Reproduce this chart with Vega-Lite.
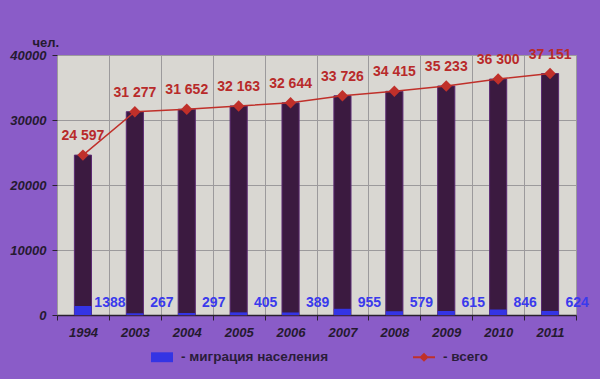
{
  "$schema": "https://vega.github.io/schema/vega-lite/v6.json",
  "width": 519,
  "height": 260,
  "autosize": {"type": "none"},
  "padding": {"left": 57, "top": 55, "right": 24, "bottom": 64},
  "background": "#8a5cc8",
  "config": {
    "font": "Liberation Sans",
    "locale": {"number": {"decimal": ".", "thousands": " ", "grouping": [3], "currency": ["", ""]}},
    "view": {"fill": "#d9d7d2", "stroke": "#8d8a90", "strokeWidth": 1}
  },
  "data": {
    "values": [
      {"year": "1994", "total": 24597, "migration": 1388},
      {"year": "2003", "total": 31277, "migration": 267},
      {"year": "2004", "total": 31652, "migration": 297},
      {"year": "2005", "total": 32163, "migration": 405},
      {"year": "2006", "total": 32644, "migration": 389},
      {"year": "2007", "total": 33726, "migration": 955},
      {"year": "2008", "total": 34415, "migration": 579},
      {"year": "2009", "total": 35233, "migration": 615},
      {"year": "2010", "total": 36300, "migration": 846},
      {"year": "2011", "total": 37151, "migration": 624}
    ]
  },
  "encoding": {
    "x": {
      "field": "year",
      "type": "nominal",
      "scale": {"paddingInner": 0, "paddingOuter": 0},
      "axis": {
        "title": null,
        "labelAngle": 0,
        "tickBand": "extent",
        "grid": true,
        "gridColor": "#9c9a9c",
        "gridWidth": 1,
        "domainColor": "#2a2030",
        "domainWidth": 1.5,
        "tickColor": "#2a2030",
        "tickSize": 5,
        "labelPadding": 6,
        "labelFont": "Liberation Sans",
        "labelFontSize": 13,
        "labelFontWeight": "bold",
        "labelFontStyle": "italic",
        "labelColor": "#251a30"
      }
    }
  },
  "layer": [
    {
      "mark": {"type": "bar", "width": {"band": 0.33}, "color": "#3b1a40", "stroke": "#5b2a72", "strokeWidth": 1},
      "encoding": {
        "y": {
          "field": "total",
          "type": "quantitative",
          "scale": {"domain": [0, 40000]},
          "axis": {
            "values": [0, 10000, 20000, 30000, 40000],
            "format": "d",
            "title": "чел.",
            "titleAngle": 0,
            "titleAlign": "left",
            "titleBaseline": "bottom",
            "titleX": -25,
            "titleY": -6,
            "titleFont": "Liberation Sans",
            "titleFontSize": 13,
            "titleFontWeight": "bold",
            "titleColor": "#251a30",
            "grid": true,
            "gridColor": "#9c9a9c",
            "gridWidth": 1,
            "domain": false,
            "tickColor": "#2a2030",
            "tickSize": 5,
            "labelPadding": 6,
            "labelFont": "Liberation Sans",
            "labelFontSize": 13,
            "labelFontWeight": "bold",
            "labelFontStyle": "italic",
            "labelColor": "#251a30"
          }
        }
      }
    },
    {
      "mark": {"type": "bar", "width": {"band": 0.33}},
      "encoding": {
        "y": {"field": "migration", "type": "quantitative"},
        "color": {
          "datum": "- миграция населения",
          "type": "nominal",
          "scale": {"domain": ["- миграция населения", "- всего"], "range": ["#3434e4", "#c0302a"]},
          "legend": {
            "title": null,
            "orient": "none",
            "legendX": 94,
            "legendY": 291,
            "direction": "horizontal",
            "columns": 2,
            "columnPadding": 84,
            "symbolSize": 484,
            "labelFont": "Liberation Sans",
            "labelFontSize": 13.5,
            "labelFontWeight": "bold",
            "labelColor": "#2a1d3a",
            "labelOffset": 8,
            "encode": {
              "symbols": {
                "update": {
                  "shape": {"signal": "datum.value === '- всего' ? 'M-1,-0.09L1,-0.09L1,0.09L-1,0.09Z M0,-0.42L0.42,0L0,0.42L-0.42,0Z' : 'M-1,-0.45L1,-0.45L1,0.45L-1,0.45Z'"},
                  "fill": {"signal": "datum.value === '- всего' ? '#c0302a' : '#3434e4'"},
                  "strokeWidth": {"value": 0},
                  "opacity": {"value": 1},
                  "fillOpacity": {"value": 1}
                }
              }
            }
          }
        }
      }
    },
    {
      "mark": {"type": "line", "strokeWidth": 1.5},
      "encoding": {
        "y": {"field": "total", "type": "quantitative"},
        "color": {"datum": "- всего", "type": "nominal"}
      }
    },
    {
      "mark": {"type": "point", "shape": "diamond", "filled": true, "size": 130, "opacity": 1},
      "encoding": {
        "y": {"field": "total", "type": "quantitative"},
        "color": {"datum": "- всего", "type": "nominal"}
      }
    },
    {
      "mark": {"type": "text", "dy": -19, "fontSize": 14, "fontWeight": "bold", "color": "#b82a2a", "font": "Liberation Sans"},
      "encoding": {
        "y": {"field": "total", "type": "quantitative"},
        "text": {"field": "total", "type": "quantitative", "format": ",d", "formatType": "number"}
      }
    },
    {
      "mark": {"type": "text", "dy": -12, "xOffset": 27, "fontSize": 14, "fontWeight": "bold", "color": "#3a3aec", "font": "Liberation Sans"},
      "encoding": {
        "y": {"datum": 0, "type": "quantitative"},
        "text": {"field": "migration", "type": "quantitative", "format": "d"}
      }
    }
  ],
  "resolve": {"scale": {"y": "shared"}}
}
